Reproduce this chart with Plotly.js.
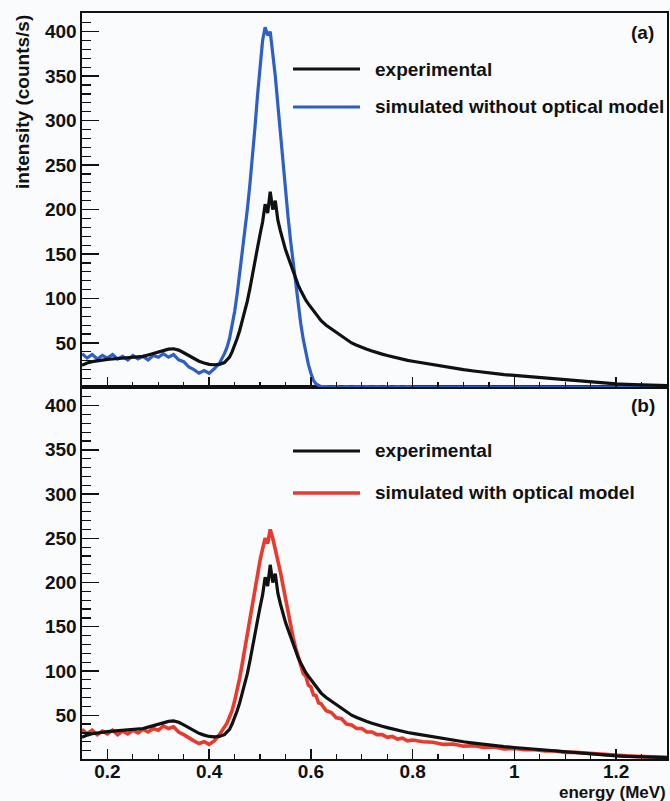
<!DOCTYPE html>
<html>
<head>
<meta charset="utf-8">
<script src="https://cdn.plot.ly/plotly-3.0.1.min.js"></script>
<style>html,body{margin:0;padding:0;background:#fafbfd;}#chart{width:670px;height:801px;}</style>
</head>
<body>
<div id="chart"></div>
<script>
// energy bins (MeV)
const energy = [
  0.15,0.16,0.17,0.18,0.19,0.20,0.21,0.22,0.23,0.24,0.25,0.26,0.27,0.28,0.29,0.30,0.31,0.32,0.33,0.34,0.35,0.36,0.37,0.38,0.39,0.40,0.41,0.42,0.43,
  0.435,0.44,0.445,0.45,0.455,0.46,0.465,0.47,0.475,0.48,0.485,0.49,0.495,0.50,0.505,0.51,0.515,0.52,0.525,0.53,0.535,0.54,0.545,0.55,0.555,0.56,0.565,0.57,0.575,0.58,0.585,0.59,0.595,0.60,0.605,0.61,0.615,0.62,
  0.63,0.64,0.65,0.66,0.67,0.68,0.69,0.70,0.71,0.72,0.73,0.74,0.75,0.76,0.77,0.78,0.79,0.80,
  0.82,0.84,0.86,0.88,0.90,0.92,0.94,0.96,0.98,1.00,1.02,1.04,1.06,1.08,1.10,1.12,1.14,1.16,1.18,1.20,1.22,1.24,1.26,1.28,1.30
];

// experimental spectrum (counts/s)
const experimental = [
  25,27.5,29,30,31,31.5,32,32.5,33,33,33.5,34,35,36.5,38,40,41.5,43,43.5,42,39,35.5,32,29.5,27.5,26,25.5,26,28,
  30.5,34,40,47,55,64,74,84,97,111,125,141,157,172,186,206,196,220,200,210,188,176,165,155,147,139,130,122,115,109,103,98,94,90,86,82,78,75,
  70,66,61,57,53,50,47.5,45,43,41,39,37.5,36,34.5,33,31.5,30.5,29.5,
  27.5,25.5,23.5,21.5,20,18.5,17,15.5,14.5,13.5,12.5,11.5,10.5,9.5,8.5,7.5,6.5,5.5,4.5,4,3.5,3,2.5,2,2
];

// simulated without optical model (panel a)
const simNoOptical = [
  38,33,37,32,36,33,37,32,35,31,36,32,35,31,36,34,38,34,37,31,29,23,20,16,19,16,21,27,38,
  45,55,68,85,105,128,152,176,200,228,258,292,328,362,390,405,396,400,378,350,318,285,250,218,192,165,140,116,93,72,54,38,26,16,8,4,2,1,
  1,0.5,1,0.5,1,0.5,1,0.5,1,0.5,1,0.5,1,0.5,1,0.5,1,0.5,
  0.5,0.5,0.5,0.5,0.5,0.5,0.5,0.5,0.5,0.5,0.5,0.5,0.5,0.5,0.5,0.5,0.5,0.5,0.5,0.5,0.5,0.5,0.5,0.5,0.5
];

// simulated with optical model (panel b)
const simOptical = [
  34,29,33,28,32,29,33,28,32,29,33,30,34,31,35,33,38,35,37,31,28,24,21,18,20,17,21,28,36,
  41,48,55,66,78,92,108,125,142,160,178,195,210,225,238,250,244,260,250,238,226,212,197,181,165,151,138,126,116,109,97,94,84,82,73,72,64,63,
  55,53,47,46,40,39,35,35,31,31,28,28,25,26,23,24,21,22,
  20,19.5,17,17.5,15,15.5,13.5,14,12,12.5,11,11,9.5,9.5,8,8,7,6,5,4.5,4,3.5,3,2.5,2.5
];

const xLabel = 'energy (MeV)';
const yLabel = 'intensity (counts/s)';
const legendA = ['experimental', 'simulated without optical model'];
const legendB = ['experimental', 'simulated with optical model'];
const panelTags = ['(a)', '(b)'];

const BLACK = '#111111', BLUE = '#2d5fc6', RED = '#ea3a2b';
const FONT = {family: 'Liberation Sans, Arial, sans-serif', size: 19, color: '#111111', weight: 'bold'};

const traces = [
  {x: energy, y: simNoOptical, xaxis: 'x2', yaxis: 'y2', mode: 'lines', line: {color: BLUE, width: 3.2}, name: legendA[1]},
  {x: energy, y: experimental, xaxis: 'x2', yaxis: 'y2', mode: 'lines', line: {color: BLACK, width: 3.2}, name: legendA[0]},
  {x: energy, y: simOptical, xaxis: 'x', yaxis: 'y', mode: 'lines', line: {color: RED, width: 3.6}, name: legendB[1]},
  {x: energy, y: experimental, xaxis: 'x', yaxis: 'y', mode: 'lines', line: {color: BLACK, width: 3.2}, name: legendB[0]}
];

const xCommon = {
  range: [0.15, 1.3], tickmode: 'linear', tick0: 0, dtick: 0.2,
  ticks: 'inside', ticklen: 10, tickwidth: 1.4, tickcolor: BLACK,
  minor: {dtick: 0.05, tick0: 0, ticks: 'inside', ticklen: 5, tickwidth: 1.2, tickcolor: BLACK, showgrid: false},
  showline: true, linecolor: BLACK, linewidth: 1.6, mirror: true,
  showgrid: false, zeroline: false, tickfont: FONT, automargin: false
};
const yCommon = {
  range: [0.5, 421], tickmode: 'linear', tick0: 50, dtick: 50,
  ticks: 'inside', ticklen: 17, tickwidth: 1.4, tickcolor: BLACK,
  minor: {dtick: 10, tick0: 0, ticks: 'inside', ticklen: 9, tickwidth: 1.2, tickcolor: BLACK, showgrid: false},
  showline: true, linecolor: BLACK, linewidth: 1.6, mirror: true,
  showgrid: false, zeroline: false, tickfont: FONT, automargin: false
};

const split = 372 / 746;
const layout = {
  width: 670, height: 801,
  margin: {l: 82, r: 3, t: 13, b: 42, pad: 0},
  paper_bgcolor: '#fafbfd', plot_bgcolor: '#fafbfd',
  showlegend: false,
  xaxis: Object.assign({}, xCommon, {anchor: 'y', domain: [0, 1], showticklabels: true, ticklabelstandoff: -5}),
  xaxis2: Object.assign({}, xCommon, {anchor: 'y2', domain: [0, 1], matches: 'x', showticklabels: false}),
  yaxis: Object.assign({}, yCommon, {anchor: 'x', domain: [0, split]}),
  yaxis2: Object.assign({}, yCommon, {anchor: 'x2', domain: [split, 1]}),
  shapes: [
    {type: 'line', xref: 'paper', yref: 'paper', x0: 0.3607, x1: 0.4752, y0: 0.9249, y1: 0.9249, line: {color: BLACK, width: 3}},
    {type: 'line', xref: 'paper', yref: 'paper', x0: 0.3607, x1: 0.4752, y0: 0.8740, y1: 0.8740, line: {color: BLUE, width: 2.8}},
    {type: 'line', xref: 'paper', yref: 'paper', x0: 0.3607, x1: 0.4752, y0: 0.4129, y1: 0.4129, line: {color: BLACK, width: 3}},
    {type: 'line', xref: 'paper', yref: 'paper', x0: 0.3607, x1: 0.4752, y0: 0.3566, y1: 0.3566, line: {color: RED, width: 3.4}}
  ],
  annotations: [
    {text: legendA[0], xref: 'paper', yref: 'paper', x: 0.4974, y: 0.9249, xanchor: 'left', yanchor: 'middle', showarrow: false, font: FONT},
    {text: legendA[1], xref: 'paper', yref: 'paper', x: 0.4974, y: 0.8740, xanchor: 'left', yanchor: 'middle', showarrow: false, font: FONT},
    {text: legendB[0], xref: 'paper', yref: 'paper', x: 0.4974, y: 0.4129, xanchor: 'left', yanchor: 'middle', showarrow: false, font: FONT},
    {text: legendB[1], xref: 'paper', yref: 'paper', x: 0.4974, y: 0.3566, xanchor: 'left', yanchor: 'middle', showarrow: false, font: FONT},
    {text: panelTags[0], xref: 'paper', yref: 'paper', x: 0.9812, y: 0.9745, xanchor: 'right', yanchor: 'middle', showarrow: false, font: FONT},
    {text: panelTags[1], xref: 'paper', yref: 'paper', x: 0.983, y: 0.4745, xanchor: 'right', yanchor: 'middle', showarrow: false, font: FONT},
    {text: yLabel, xref: 'paper', yref: 'paper', x: -0.1026, y: 1, xanchor: 'center', yanchor: 'top', textangle: -90, showarrow: false, font: FONT},
    {text: xLabel, xref: 'paper', yref: 'paper', x: 1, y: -0.0315, xanchor: 'right', yanchor: 'top', borderpad: 0, showarrow: false,
     font: Object.assign({}, FONT, {size: 17})}
  ]
};

Plotly.newPlot('chart', traces, layout, {staticPlot: true, displayModeBar: false});
</script>
</body>
</html>
